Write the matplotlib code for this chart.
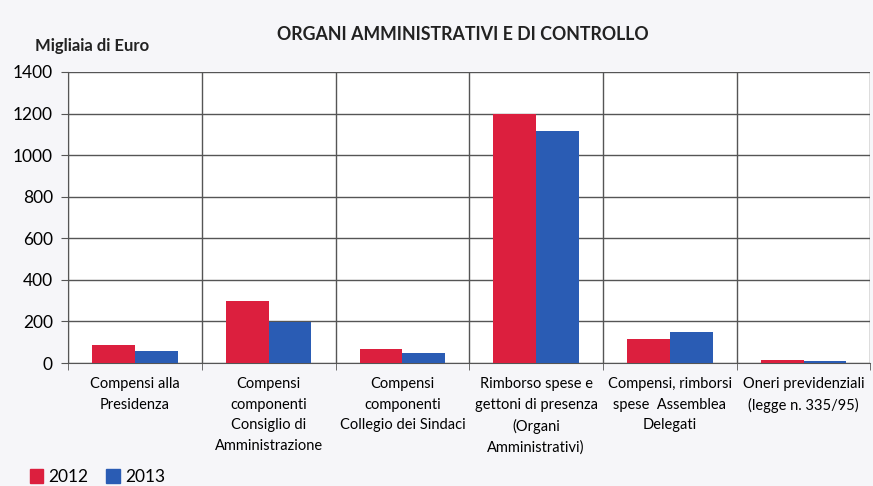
import matplotlib.pyplot as plt
from matplotlib import rcParams
import matplotlib.patches as mpatches
import numpy as np

rcParams['font.family'] = ['Lato', 'DejaVu Sans']

categories = [
    'Compensi alla\nPresidenza',
    'Compensi\ncomponenti\nConsiglio di\nAmministrazione',
    'Compensi\ncomponenti\nCollegio dei Sindaci',
    'Rimborso spese e\ngettoni di presenza\n(Organi\nAmministrativi)',
    'Compensi, rimborsi\nspese  Assemblea\nDelegati',
    'Oneri previdenziali\n(legge n. 335/95)',
]
values_2012 = [87, 300, 68, 1198, 114, 14]
values_2013 = [58, 198, 46, 1116, 150, 8]
years = ['2012', '2013']
yticks = [0, 200, 400, 600, 800, 1000, 1200, 1400]

red = '#dc1f3e'
blue = '#2a5cb4'
grid = '#555555'

fig = plt.figure(figsize=(8.73, 4.86), dpi=100)
fig.patch.set_facecolor('#f6f6f9')
ax = fig.add_axes([0.078, 0.253, 0.919, 0.599])
ax.set_facecolor('white')

x = np.arange(len(categories))
width = 0.32
ax.bar(x - width / 2, values_2012, width, color=red, zorder=3)
ax.bar(x + width / 2, values_2013, width, color=blue, zorder=3)

ax.set_xlim(-0.5, len(categories) - 0.5)
ax.set_ylim(0, 1400)
ax.set_yticks(yticks)
ax.set_yticklabels([str(v) for v in yticks], fontsize=12.5)
ax.yaxis.grid(True, color=grid, linewidth=1.0, zorder=0)

# category separators
ax.set_xticks(np.arange(len(categories) + 1) - 0.5, minor=True)
ax.set_xticks(x)
ax.set_xticklabels(categories, fontsize=10.5, linespacing=1.6, va='top')
ax.tick_params(axis='x', which='major', length=0, pad=10)
ax.tick_params(axis='x', which='minor', length=5, color=grid)
ax.tick_params(axis='y', length=5, color=grid, pad=6)
ax.xaxis.grid(True, which='minor', color=grid, linewidth=1.0, zorder=0)

for side in ['top', 'right']:
    ax.spines[side].set_visible(False)
ax.spines['left'].set_color(grid)
ax.spines['bottom'].set_color(grid)

fig.text(0.53, 0.93, 'ORGANI AMMINISTRATIVI E DI CONTROLLO', ha='center',
         va='center', fontsize=12.8, fontweight='bold', color='#222222')
fig.text(0.04, 0.905, 'Migliaia di Euro', ha='left', va='center',
         fontsize=12, fontweight='bold', color='#222222')

handles = [mpatches.Patch(color=red, label=years[0]),
           mpatches.Patch(color=blue, label=years[1])]
fig.legend(handles=handles, loc='lower left', bbox_to_anchor=(0.016, -0.03),
           ncol=2, frameon=False, fontsize=12.5, handlelength=0.8,
           handleheight=0.8, handletextpad=0.3, columnspacing=1.0)

plt.savefig('out.png', dpi=100, facecolor=fig.get_facecolor())
